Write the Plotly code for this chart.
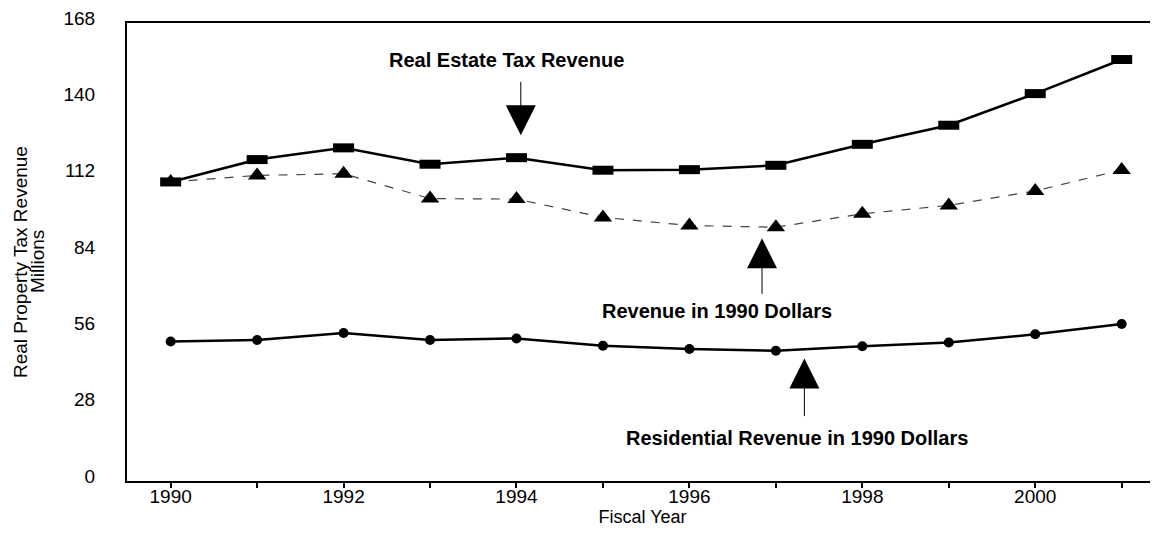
"""
Real property tax revenue, fiscal years 1990-2001.
"""
import plotly.graph_objects as go

years = list(range(1990, 2002))

# Millions of dollars
real_estate = [109.7, 117.9, 122.2, 116.2, 118.6, 114.0, 114.2, 115.8, 123.5, 130.5, 142.1, 154.6]
revenue_1990 = [109.7, 112.1, 112.7, 103.6, 103.4, 96.7, 93.7, 93.1, 98.0, 101.1, 106.4, 114.1]
residential_1990 = [51.2, 51.7, 54.3, 51.7, 52.3, 49.6, 48.4, 47.8, 49.4, 50.8, 53.8, 57.6]

y_ticks = [0, 28, 56, 84, 112, 140, 168]
x_ticks = years
x_labels = [str(y) if y % 2 == 0 else "" for y in years]

FONT = "Liberation Sans, Arial, sans-serif"

fig = go.Figure()

# Revenue in 1990 dollars - thin dashed line with flat triangles
fig.add_trace(go.Scatter(
    x=years, y=revenue_1990, mode="lines+markers",
    line=dict(color="#444444", width=1.2, dash="dash"),
    marker=dict(symbol="triangle-up", size=16, color="black"),
))

# Residential revenue in 1990 dollars
fig.add_trace(go.Scatter(
    x=years, y=residential_1990, mode="lines+markers",
    line=dict(color="black", width=2.5),
    marker=dict(symbol="circle", size=10, color="black"),
))

# Real estate tax revenue - flat rectangles drawn as thick horizontal bars
fig.add_trace(go.Scatter(
    x=years, y=real_estate, mode="lines+markers",
    line=dict(color="black", width=2.5),
    marker=dict(symbol="line-ew", size=15, line=dict(color="black", width=9)),
))

# Labels and arrows
labels = [
    ("Real Estate Tax Revenue", 1993.89, 154.4),
    ("Revenue in 1990 Dollars", 1996.32, 62.5),
    ("Residential Revenue in 1990 Dollars", 1997.25, 15.8),
]
for text, x, y in labels:
    fig.add_annotation(x=x, y=y, text=text, showarrow=False,
                       font=dict(family=FONT, size=20, color="black", weight="bold"))

arrows = [
    (1994.05, 126.8, -55),
    (1996.84, 89.0, 57),
    (1997.33, 44.9, 59),
]
for x, y, ay in arrows:
    fig.add_annotation(x=x, y=y, text="", showarrow=True, ax=0, ay=ay,
                       arrowhead=2, arrowsize=6, arrowwidth=1, arrowcolor="black")

# y-axis title as two tightly spaced rotated lines
for text, shift in [("Real Property Tax Revenue", -107), ("Millions", -90)]:
    fig.add_annotation(xref="paper", yref="paper", x=0, y=0.478, text=text,
                       textangle=-90, showarrow=False, xshift=shift,
                       xanchor="center", yanchor="middle",
                       font=dict(family=FONT, size=19, color="black"))

# the page body has an 8px margin, so the figure is sized to fit the window
fig.update_layout(
    width=1150, height=526,
    margin=dict(l=119, r=0, t=15, b=53),
    paper_bgcolor="white", plot_bgcolor="white",
    showlegend=False,
    font=dict(family=FONT, size=19, color="black"),
)

fig.update_xaxes(
    range=[1989.495, 2001.42],
    tickvals=x_ticks, ticktext=x_labels,
    ticks="outside", ticklen=5, tickwidth=1.5, tickcolor="black",
    ticklabelstandoff=-8,
    showline=True, linecolor="black", linewidth=2, mirror=True,
    showgrid=False, zeroline=False, automargin=False,
    tickfont=dict(size=19),
    title=dict(text="Fiscal Year", font=dict(size=18), standoff=0),
)
fig.update_yaxes(
    range=[0, 168],
    tickvals=y_ticks,
    ticks="", ticklabelstandoff=26, ticklabelshift=-5,
    ticklabeloverflow="allow",
    showline=True, linecolor="black", linewidth=2,
    showgrid=False, zeroline=False, automargin=False,
    tickfont=dict(size=19),
)

fig.write_html("out.html")
